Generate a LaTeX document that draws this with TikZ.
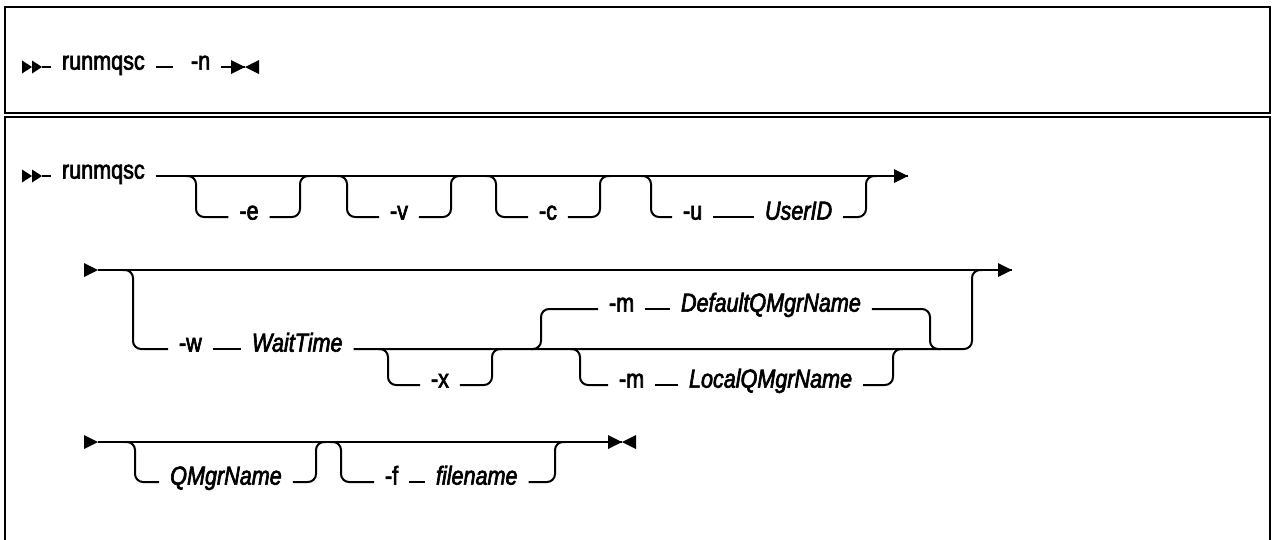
\documentclass[tikz,border=0pt]{standalone}
\usepackage{fontspec}
\setmainfont{Liberation Sans}[FakeStretch=0.83,FakeBold=2.5]
\newcommand\rtip[2]{\fill (#1,#2) -- ++(-14,-7) -- ++(0,14) -- cycle;}
\newcommand\ltip[2]{\fill (#1,#2) -- ++(14,-7) -- ++(0,14) -- cycle;}
\newcommand\rsmall[2]{\fill (#1,#2) -- ++(-10,-6.5) -- ++(0,13) -- cycle;}
\begin{document}
\begin{tikzpicture}[x=1pt,y=-1pt,line width=2pt,
  lbl/.style={anchor=west,inner xsep=10pt,inner ysep=0pt,text height=1.5ex,text depth=0.5ex,font=\fontsize{26}{30}\selectfont},
  var/.style={lbl,font=\fontsize{26}{30}\selectfont\itshape},
  frame/.style={line width=2.6pt},
  br/.style={rounded corners=8pt}]
\useasboundingbox (0,0) rectangle (1274,539);
\fill[white] (0,0) rectangle (1274,539);
% frames
\draw[frame] (5,7) rectangle (1270,113);
\draw[frame] (5,570) -- (5,117) -- (1270,117) -- (1270,570);

% ---------- row 1 ----------
\rsmall{32}{67}\rsmall{42}{67}
\coordinate (r1s) at (42,67);
\node[lbl] (r1cmd) at (51,67) {runmqsc};
\coordinate (r1d) at (173,67);
\draw (r1s) -- (r1cmd.west);
\draw (r1cmd.east) -- (r1d);
\node[lbl] (r1n) at (180,67) {-n};
\coordinate (r1e) at (245,67);
\draw (r1n.east) -- (r1e);
\rtip{245}{67}\ltip{245}{67}

% ---------- row 2 ----------
\rsmall{32}{176}\rsmall{42}{176}
\coordinate (r2s) at (42,176);
\coordinate (r2e) at (908,176);
\node[lbl] (r2cmd) at (51,176) {runmqsc};
\draw (r2s) -- (r2cmd.west);
\draw (r2cmd.east) -- (r2e);
\rtip{908}{176}
% -e
\node[lbl,anchor=center] (oe) at (249,217) {-e};
\draw[br] (186,176) -- (196,176) -- (196,217) -- (oe.west);
\draw[br] (oe.east) -- (300,217) -- (300,176) -- (310,176);
% -v
\node[lbl,anchor=center] (ov) at (399,217) {-v};
\draw[br] (337,176) -- (347,176) -- (347,217) -- (ov.west);
\draw[br] (ov.east) -- (451,217) -- (451,176) -- (461,176);
% -c
\node[lbl,anchor=center] (oc) at (548,217) {-c};
\draw[br] (486,176) -- (496,176) -- (496,217) -- (oc.west);
\draw[br] (oc.east) -- (600,217) -- (600,176) -- (610,176);
% -u UserID
\node[lbl] (ou) at (672,217) {-u};
\node[var] (uid) at (754,217) {UserID};
\draw[br] (641,176) -- (651,176) -- (651,217) -- (ou.west);
\draw (ou.east) -- (uid.west);
\draw[br] (uid.east) -- (866,217) -- (866,176) -- (876,176);

% ---------- row 3 ----------
\rtip{98}{270}
\coordinate (r3s) at (98,270);
\coordinate (r3e) at (1012,270);
\draw (r3s) -- (r3e);
\rtip{1012}{270}
\node[lbl] (ow) at (168,349) {-w};
\node[var] (wt) at (241,349) {WaitTime};
\draw[br] (123,270) -- (133,270) -- (133,349) -- (ow.west);
\draw (ow.east) -- (wt.west);
\draw[br] (wt.east) -- (972,349) -- (972,270) -- (982,270);
% -x
\node[lbl,anchor=center] (ox) at (440,385) {-x};
\draw[br] (378,349) -- (388,349) -- (388,385) -- (ox.west);
\draw[br] (ox.east) -- (492,385) -- (492,349) -- (502,349);
% -m DefaultQMgrName (above)
\node[lbl] (mup) at (598,309) {-m};
\node[var] (dq) at (670,309) {DefaultQMgrName};
\draw[br] (531,349) -- (541,349) -- (541,309) -- (mup.west);
\draw (mup.east) -- (dq.west);
\draw[br] (dq.east) -- (930,309) -- (930,349) -- (940,349);
% -m LocalQMgrName (below)
\node[lbl] (mdn) at (608,385) {-m};
\node[var] (lq) at (678,385) {LocalQMgrName};
\draw[br] (570,349) -- (580,349) -- (580,385) -- (mdn.west);
\draw (mdn.east) -- (lq.west);
\draw[br] (lq.east) -- (893,385) -- (893,349) -- (903,349);

% ---------- row 4 ----------
\rtip{98}{442}
\coordinate (r4s) at (98,442);
\coordinate (r4e) at (622,442);
\draw (r4s) -- (r4e);
\rtip{622}{442}\ltip{622}{442}
\node[var,anchor=center] (qm) at (226,482) {QMgrName};
\draw[br] (125,442) -- (135,442) -- (135,482) -- (qm.west);
\draw[br] (qm.east) -- (316,482) -- (316,442) -- (326,442);
\node[lbl] (of) at (374,482) {-f};
\node[var] (fn) at (425,482) {filename};
\draw[br] (331,442) -- (341,442) -- (341,482) -- (of.west);
\draw (of.east) -- (fn.west);
\draw[br] (fn.east) -- (555,482) -- (555,442) -- (565,442);
\end{tikzpicture}
\end{document}
